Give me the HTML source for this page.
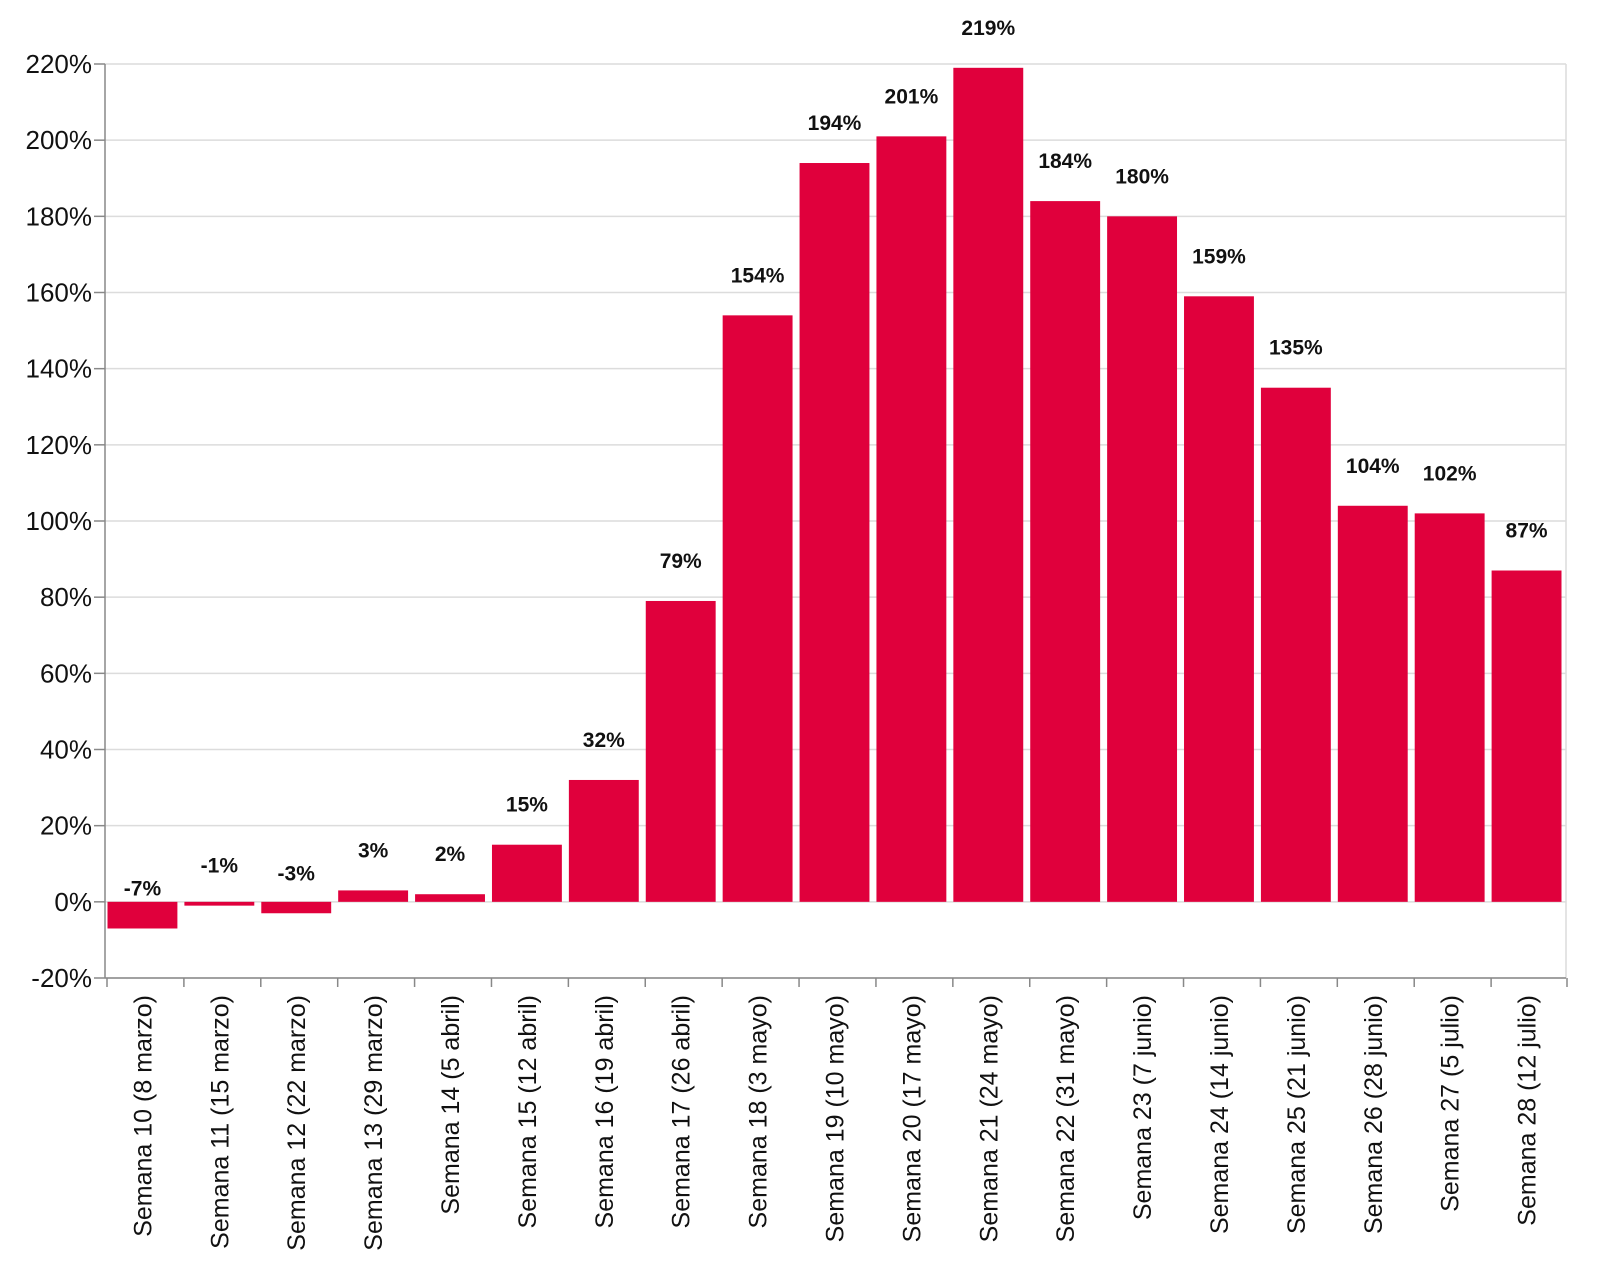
<!DOCTYPE html>
<html><head><meta charset="utf-8"><style>
body{margin:0;background:#fff;}
svg{display:block;font-family:"Liberation Sans",Arial,sans-serif;}
</style></head><body>
<svg id="chart" width="1600" height="1276" viewBox="0 0 1600 1276"></svg>
<script>
const categories=["Semana 10 (8 marzo)","Semana 11 (15 marzo)","Semana 12 (22 marzo)","Semana 13 (29 marzo)","Semana 14 (5 abril)","Semana 15 (12 abril)","Semana 16 (19 abril)","Semana 17 (26 abril)","Semana 18 (3 mayo)","Semana 19 (10 mayo)","Semana 20 (17 mayo)","Semana 21 (24 mayo)","Semana 22 (31 mayo)","Semana 23 (7 junio)","Semana 24 (14 junio)","Semana 25 (21 junio)","Semana 26 (28 junio)","Semana 27 (5 julio)","Semana 28 (12 julio)"];
const values=[-7,-1,-3,3,2,15,32,79,154,194,201,219,184,180,159,135,104,102,87];
const yTicks=[-20,0,20,40,60,80,100,120,140,160,180,200,220];
const NS="http://www.w3.org/2000/svg";
const svg=document.getElementById('chart');
const L=105,R=1566,T=64,B=978,yMin=-20,yMax=220;
const y=v=>B-(v-yMin)/(yMax-yMin)*(B-T);
const band=(R-L)/categories.length;
const x=i=>L+i*band;
function mk(t,a,p){const e=document.createElementNS(NS,t);for(const k in a)e.setAttribute(k,a[k]);(p||svg).appendChild(e);return e;}
yTicks.forEach(t=>{
  const g=mk('line',{x1:L,x2:R,y1:y(t),y2:y(t),stroke:'#dcdcdc','stroke-width':1.5});
  
  
  const tk=mk('line',{x1:94,x2:L,y1:y(t),y2:y(t),stroke:'#888','stroke-width':1.5});
  
  
  const lb=mk('text',{x:92,y:y(t)+9,'text-anchor':'end','font-size':26,fill:'#111'});
  lb.textContent=t+'%';
  
  
});
const rb=mk('line',{x1:R,x2:R,y1:T,y2:B,stroke:'#dcdcdc','stroke-width':1.5});


values.forEach((v,i)=>{
  const x0=x(i)+2.5,w=band-7;
  const r=mk('rect',{x:x0,y:Math.min(y(v),y(0)),width:w,height:Math.max(Math.abs(y(v)-y(0)),1.5),fill:'#e0003c'});
  
  
  const t=mk('text',{x:x0+w/2,y:y(v)-33,'text-anchor':'middle','font-size':21,'font-weight':'bold',fill:'#111'});
  t.textContent=v+'%';
  
  
  const tk=mk('line',{x1:x(i)+2,x2:x(i)+2,y1:B,y2:B+9,stroke:'#888','stroke-width':1.5});
  
  
  const cx=x0+w/2+9;
  const cl=mk('text',{x:0,y:0,'text-anchor':'end','font-size':25,fill:'#111',transform:`translate(${cx},995) rotate(-90)`});
  cl.textContent=categories[i];
  
  
});
const lt=mk('line',{x1:x(categories.length)+1,x2:x(categories.length)+1,y1:B,y2:B+9,stroke:'#888','stroke-width':1.5});


const ya=mk('line',{x1:L,x2:L,y1:T,y2:B,stroke:'#888','stroke-width':1.5});


const xa=mk('line',{x1:L,x2:R,y1:B,y2:B,stroke:'#888','stroke-width':1.5});


</script>
</body></html>
